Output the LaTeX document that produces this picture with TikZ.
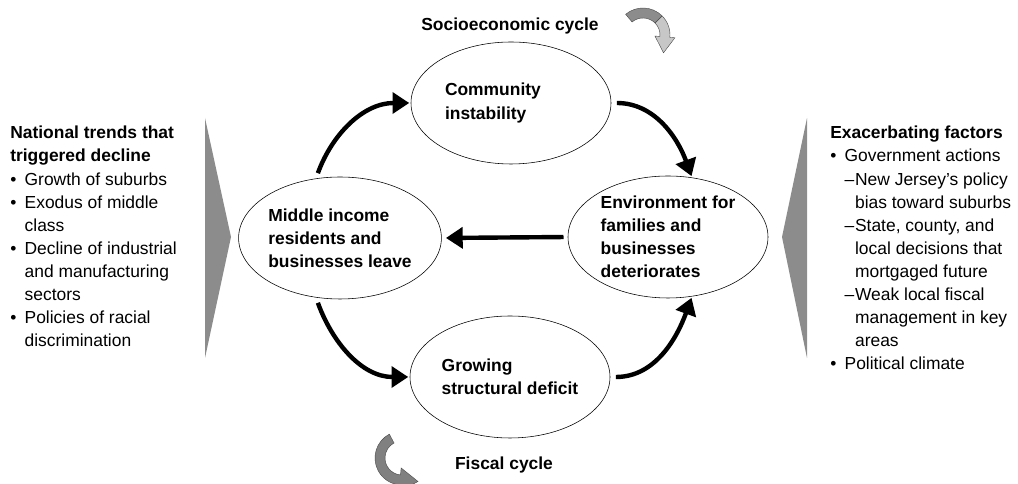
\documentclass[tikz,border=0pt]{standalone}
\usepackage{fontspec}
\setmainfont{Liberation Sans}
\usetikzlibrary{arrows.meta,positioning,shapes.geometric,calc}

\newcommand{\bul}{\makebox[0.36cm][l]{\textbullet}}
\newcommand{\bulgap}{\hspace*{0.36cm}}
\newcommand{\subdash}{\hspace*{0.36cm}\makebox[0.26cm][l]{–}}
\newcommand{\subgap}{\hspace*{0.62cm}}

\begin{document}
\begin{tikzpicture}[
    font=\fontsize{12.4}{16.4}\selectfont,
    cyc/.style={
      ellipse, draw, thin, align=left,
      font=\fontsize{12.4}{16.4}\selectfont\bfseries,
      minimum width=5cm, minimum height=3.05cm, inner sep=0pt
    },
    flow/.style={-{Triangle[length=0.42cm,width=0.52cm]}, line width=0.11cm},
    wedge/.style={fill=black!45},
    blockarr/.style={draw=black!70, line width=0.3pt},
    lbl/.style={font=\fontsize{12.4}{16.4}\selectfont\bfseries},
    side/.style={align=left, anchor=north west, inner sep=0pt}
  ]
    \useasboundingbox (0,0) rectangle (25.45,12.1);

    % Cycle states
    \node[cyc, text width=3.3cm] (comm) at (12.775,9.525) {Community\\instability};
    \node[cyc] (mid) at (8.5,6.15) {Middle income\\residents and\\businesses leave};
    \node[cyc] (env) at (16.7,6.175) {Environment for\\families and\\businesses\\deteriorates};
    \node[cyc] (grow) at (12.75,2.675) {Growing\\structural deficit};

    % Cycle arrows
    \draw[flow, shorten <=4pt, shorten >=1pt] (mid.112) to[out=70, in=180] (comm.west);
    \draw[flow, shorten <=4pt, shorten >=1pt] (comm.east) to[out=0, in=110] (env.68);
    \draw[flow, shorten <=3pt, shorten >=3pt] (env.west) -- (mid.east);
    \draw[flow, shorten <=4pt, shorten >=1pt] (mid.248) to[out=-70, in=180] (grow.west);
    \draw[flow, shorten <=4pt, shorten >=1pt] (grow.east) to[out=0, in=-110] (env.292);

    % Cycle titles
    \node[lbl] (socio) at (12.75,11.45) {Socioeconomic cycle};
    \node[lbl] (fisc) at (12.6,0.475) {Fiscal cycle};

    % Grey wedges
    \fill[wedge] (5.125,9.15) -- (5.125,3.15) -- (5.775,6.175) -- cycle;
    \fill[wedge] (20.175,9.15) -- (20.175,3.15) -- (19.55,6.175) -- cycle;

    % Side lists
    \node[side] (natl) at (0.25,8.95)
      {\textbf{National trends that}\\\textbf{triggered decline}\\
       \bul Growth of suburbs\\\bul Exodus of middle\\\bulgap class\\
       \bul Decline of industrial\\\bulgap and manufacturing\\\bulgap sectors\\
       \bul Policies of racial\\\bulgap discrimination};
    \node[side] (exac) at (20.75,8.95)
      {\textbf{Exacerbating factors}\\\bul Government actions\\
       \subdash New Jersey’s policy\\\subgap bias toward suburbs\\
       \subdash State, county, and\\\subgap local decisions that\\\subgap mortgaged future\\
       \subdash Weak local fiscal\\\subgap management in key\\\subgap areas\\
       \bul Political climate};

    % Block arrow, socioeconomic cycle
    \begin{scope}[shift={(16.075,11.225)}]
      \filldraw[blockarr, fill=black!22] (45:0.675) arc[start angle=45, end angle=-5, radius=0.675]
        -- (-5:0.80) -- (0.513,-0.446) -- (-5:0.30) -- (-5:0.425)
        arc[start angle=-5, end angle=45, radius=0.425] -- cycle;
      \filldraw[blockarr, fill=black!45] (130:0.675) arc[start angle=130, end angle=45, radius=0.675]
        -- (45:0.425) arc[start angle=45, end angle=130, radius=0.425] -- cycle;
    \end{scope}

    % Block arrow, fiscal cycle
    \begin{scope}[shift={(10.05,0.65)}]
      \filldraw[blockarr, fill=black!50] (118:0.675) arc[start angle=118, end angle=265, radius=0.675]
        -- (265:0.85) -- (0.40,-0.587) -- (265:0.25) -- (265:0.425)
        arc[start angle=265, end angle=118, radius=0.425] -- cycle;
    \end{scope}
\end{tikzpicture}
\end{document}
